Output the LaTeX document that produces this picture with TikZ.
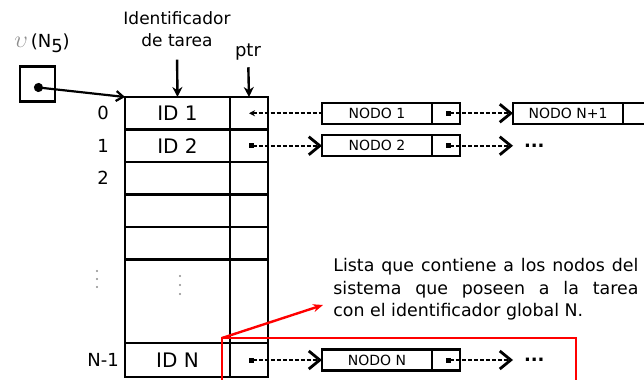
\documentclass[tikz,border=0pt]{standalone}
\usepackage{fontspec}
\setmainfont{DejaVu Sans}
\usepackage{tikz}
\usetikzlibrary{arrows.meta,positioning}
\definecolor{marco}{HTML}{FF0000}
\definecolor{puntos}{HTML}{8C8C8C}

\begin{document}
\begin{tikzpicture}[x=0.5pt, y=-0.5pt, font=\fontsize{9}{11}\selectfont,
  idcell/.style={draw, line width=1.4pt, minimum width=52.5pt, minimum height=16.25pt, inner sep=0pt, outer sep=0pt, font=\fontsize{10}{12}\selectfont},
  ptrcell/.style={idcell, minimum width=19pt},
  nodo/.style={draw, line width=1.2pt, minimum width=55pt, minimum height=10.5pt, inner sep=0pt, outer sep=0pt, font=\fontsize{7}{8}\selectfont},
  nodoptr/.style={nodo, minimum width=14pt},
  link/.style={line width=1.1pt, dash pattern=on 2pt off 1pt, {Square[length=2.5pt,width=2.5pt]}-{Straight Barb[length=5.5pt,width=9pt,line width=1.4pt]}},
  flecha/.style={line width=1.2pt, -{Stealth[length=5pt,width=5pt]}},
  rowlbl/.style={font=\fontsize{9}{11}\selectfont},
  sigue/.style={font=\fontsize{9}{9}\selectfont\bfseries}]
  \clip (0,0) rectangle (644,380);

  % tabla de tareas
  \node[idcell] (id0) at (177.5,113.25) {ID 1};
  \node[idcell, below=0pt of id0] (id1) {ID 2};
  \node[idcell, below=0pt of id1] (id2) {};
  \node[idcell, below=0pt of id2] (id3) {};
  \node[idcell, below=0pt of id3] (id4) {};
  \node[idcell, below=0pt of id4, minimum height=41.75pt] (idd) {};
  \node[idcell, below=0pt of idd, minimum height=17pt] (idN) {ID N};

  \node[ptrcell, right=0pt of id0] (p0) {};
  \node[ptrcell, right=0pt of id1] (p1) {};
  \node[ptrcell, right=0pt of id2] (p2) {};
  \node[ptrcell, right=0pt of id3] (p3) {};
  \node[ptrcell, right=0pt of id4] (p4) {};
  \node[ptrcell, right=0pt of idd, minimum height=41.75pt] (pd) {};
  \node[ptrcell, right=0pt of idN, minimum height=17pt] (pN) {};

  \coordinate (lblx) at (103,0);
  \node[rowlbl] at (lblx |- id0) {0};
  \node[rowlbl] at (lblx |- id1) {1};
  \node[rowlbl] at (lblx |- id2) {2};
  \node[rowlbl] at (lblx |- idN) {N-1};
  \foreach \yy in {271,279,287} \fill[puntos] (97,\yy) circle (0.6pt);
  \foreach \yy in {276,285,294} \fill[puntos] (180,\yy) circle (0.6pt);

  % cabeceras
  \node[align=center, font=\fontsize{8.5}{11}\selectfont] (idlbl) at (177,29) {Identificador\\de tarea};
  \node (ptrlbl) at (248,52) {ptr};
  \draw[flecha, shorten <=3pt] (idlbl.south) -- (id0.north);
  \draw[flecha] (ptrlbl) -- (p0.north);

  % puntero v(N5)
  \node (vlbl) at (42,43) {{\color{puntos}\fontsize{13}{13}\selectfont$\upsilon$}\,(N\raisebox{-2.5pt}{5})};
  \node[draw, line width=1.4pt, minimum size=17.5pt, inner sep=0pt] (vbox) at (37.5,84) {};
  \coordinate (vdot) at (34,87);
  \draw[line width=1.1pt, {Circle[length=4.5pt]}-{Straight Barb[length=3.5pt,width=5pt]}] (vdot) -- (id0.north west);

  % listas de nodos
  \node[nodo, right=27pt of p0] (n1) {NODO 1};
  \node[nodoptr, right=0pt of n1] (n1p) {};
  \node[nodo, right=27pt of p1] (n2) {NODO 2};
  \node[nodoptr, right=0pt of n2] (n2p) {};
  \node[nodo, right=26.5pt of n1p] (nN1) {NODO N+1};
  \node[nodoptr, right=0pt of nN1] (nN1p) {};
  \node[nodo, right=27pt of pN] (nN) {NODO N};
  \node[nodoptr, right=0pt of nN] (nNp) {};
  \coordinate[right=26.5pt of n2p] (e2);
  \coordinate[right=26.5pt of nNp] (eN);

  \draw[link, {Stealth[length=3pt,width=3pt]}-] (p0.center) -- (n1);
  \draw[link] (p1.center) -- (n2);
  \draw[link] (pN.center) -- (nN);
  \draw[link] (n1p.center) -- (nN1);
  \draw[link] (n2p.center) -- (e2);
  \draw[link] (nNp.center) -- (eN);
  \node[sigue, right=2pt of e2] {...};
  \node[sigue, right=2pt of eN] {...};

  % nota en rojo
  \coordinate (rojo) at (222,338);
  \coordinate (notap) at (323,305);
  \draw[marco, line width=1.2pt] (rojo) rectangle (576,400);
  \node[anchor=north west, inner sep=0pt, text width=152.5pt, align=justify, font=\fontsize{8.7}{11.25}\selectfont] (nota) at (333,258)
    {Lista que contiene a los nodos del\break sistema que poseen a la tarea\break con el identificador global N.};
  \draw[marco, line width=1.2pt, -{Stealth[length=5pt,width=4pt]}] (rojo) -- (notap);
\end{tikzpicture}
\end{document}
